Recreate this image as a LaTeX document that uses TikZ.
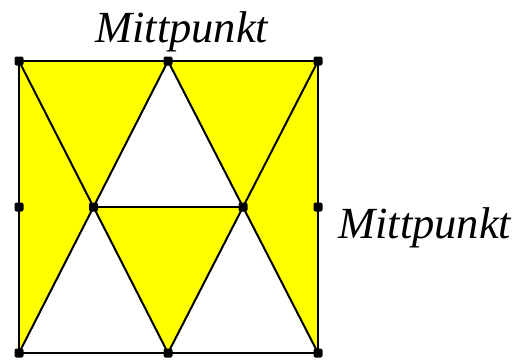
\documentclass[tikz,border=0pt]{standalone}
\usepackage{fontspec}
\setmainfont{Liberation Serif}
\definecolor{fillyellow}{RGB}{255,255,0}
\begin{document}
\begin{tikzpicture}[x=1pt,y=-1pt,
  dot/.style={rectangle,rounded corners=2pt,fill=black,inner sep=0pt,minimum size=9pt},
  edge/.style={line width=2pt,black},
  region/.style={fill=fillyellow},
  lbl/.style={font=\fontsize{44.5}{50}\selectfont\itshape,inner sep=0pt}]
\useasboundingbox (0,0) rectangle (529,362);
\coordinate (TL) at (19,61);
\coordinate (TM) at (168,61);
\coordinate (TR) at (318,61);
\coordinate (ML) at (19,207);
\coordinate (MR) at (318,207);
\coordinate (IL) at (93.5,207);
\coordinate (IR) at (243,207);
\coordinate (BL) at (19,353);
\coordinate (BM) at (168,353);
\coordinate (BR) at (318,353);
% yellow regions
\fill[region] (TL) -- (TM) -- (IL) -- (BL) -- cycle;
\fill[region] (TM) -- (TR) -- (BR) -- (IR) -- cycle;
\fill[region] (IL) -- (IR) -- (BM) -- cycle;
% edges
\draw[edge] (TL) -- (TR) -- (BR) -- (BL) -- cycle;
\draw[edge] (TL) -- (BM);
\draw[edge] (TM) -- (BL);
\draw[edge] (TM) -- (BR);
\draw[edge] (TR) -- (BM);
\draw[edge] (IL) -- (IR);
% dots
\foreach \p in {TL,TM,TR,ML,MR,IL,IR,BL,BM,BR}
  \node[dot] (d\p) at (\p) {};
% labels
\node[lbl,anchor=base west] (top) at (95,42) {Mittpunkt};
\node[lbl,anchor=base west] (right) at (338,238) {Mittpunkt};
\end{tikzpicture}
\end{document}
